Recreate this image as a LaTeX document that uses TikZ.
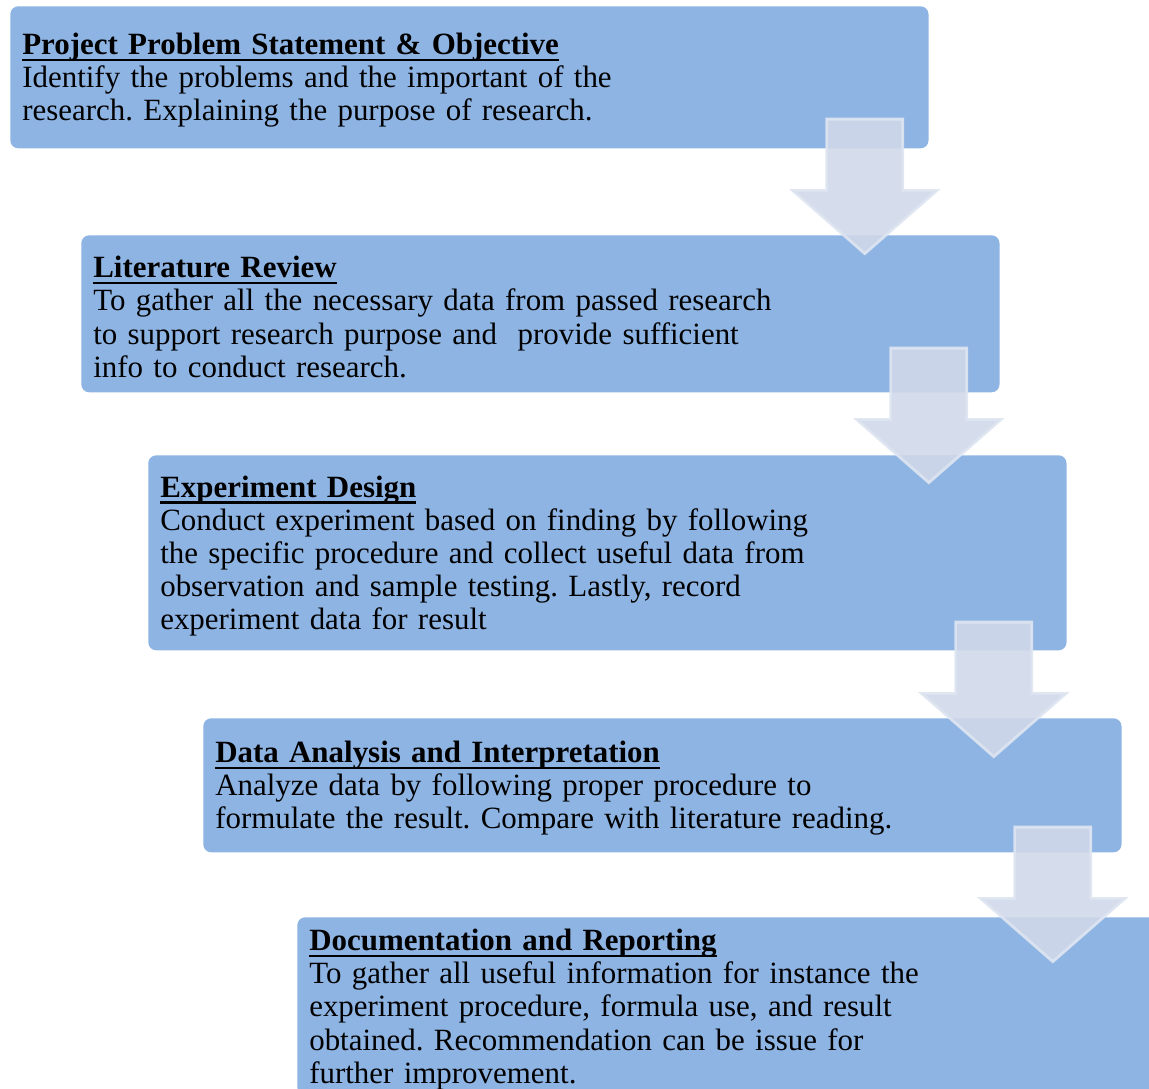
\documentclass[tikz,border=0pt]{standalone}
\usepackage{fontspec}
\setmainfont{Liberation Serif}
\usetikzlibrary{positioning,calc}
\definecolor{stepblue}{RGB}{142,180,227}
\definecolor{arrowfill}{RGB}{208,216,233}
\definecolor{arrowedge}{RGB}{222,229,241}
\frenchspacing
% bold heading with a flat underline just under the baseline
\newcommand{\steptitle}[1]{\leavevmode\rule{0pt}{0.9em}\setbox0=\hbox{\bfseries #1}%
  \rlap{\vrule height -0.13em depth 0.21em width \wd0}\box0}
\tikzset{
  stepbox/.style={fill=stepblue,rounded corners=0.2cm,anchor=north west,
    align=left,text width=22.35cm,inner xsep=0.3cm,inner ysep=0pt,
    minimum height=#1,font=\fontsize{22}{23.5}\selectfont},
  stepbox/.default=3.5cm,
  flowarrow/.style={fill=arrowfill,draw=arrowedge,line width=0.07cm,
    fill opacity=0.9,draw opacity=0.9},
  % broad down arrow, origin at the middle of its tail
  pics/downarrow/.style={code={
    \path[flowarrow] (-38,1.5) -- (38,1.5) -- (38,73) -- (72,73) -- (0,136)
      -- (-72,73) -- (-38,73) -- cycle;
  }},
}
\begin{document}
\begin{tikzpicture}[x=0.025cm,y=-0.025cm]
  \useasboundingbox (0,0) rectangle (1149,1088);
  \clip (0,0) rectangle (1149,1088);
  \node[stepbox=3.55cm] (b1) at (10,6) {\steptitle{Project Problem Statement \& Objective}\\
    Identify the problems and the important of the\\
    research. Explaining the purpose of research.};
  \node[stepbox=3.925cm] (b2) at (81,235) {\steptitle{Literature Review}\\
    To gather all the necessary data from passed research\\
    to support research purpose and \ provide sufficient\\
    info to conduct research.};
  \node[stepbox=4.875cm] (b3) at (148,455) {\steptitle{Experiment Design}\\
    Conduct experiment based on finding by following\\
    the specific procedure and collect useful data from\\
    observation and sample testing. Lastly, record\\
    experiment data for result};
  \node[stepbox=3.35cm] (b4) at (203,718) {\steptitle{Data Analysis and Interpretation}\\
    Analyze data by following proper procedure to\\
    formulate the result. Compare with literature reading.};
  \node[stepbox=4.45cm] (b5) at (297,917) {\steptitle{Documentation and Reporting}\\
    To gather all useful information for instance the\\
    experiment procedure, formula use, and result\\
    obtained. Recommendation can be issue for\\
    further improvement.};
  % arrows between the steps, drawn over both boxes
  \pic at ($(b1.south east)+(-64,-31)$) {downarrow};
  \pic at ($(b2.south east)+(-71,-46)$) {downarrow};
  \pic at ($(b3.south east)+(-73,-30)$) {downarrow};
  \pic at ($(b4.south east)+(-69,-27)$) {downarrow};
\end{tikzpicture}
\end{document}
